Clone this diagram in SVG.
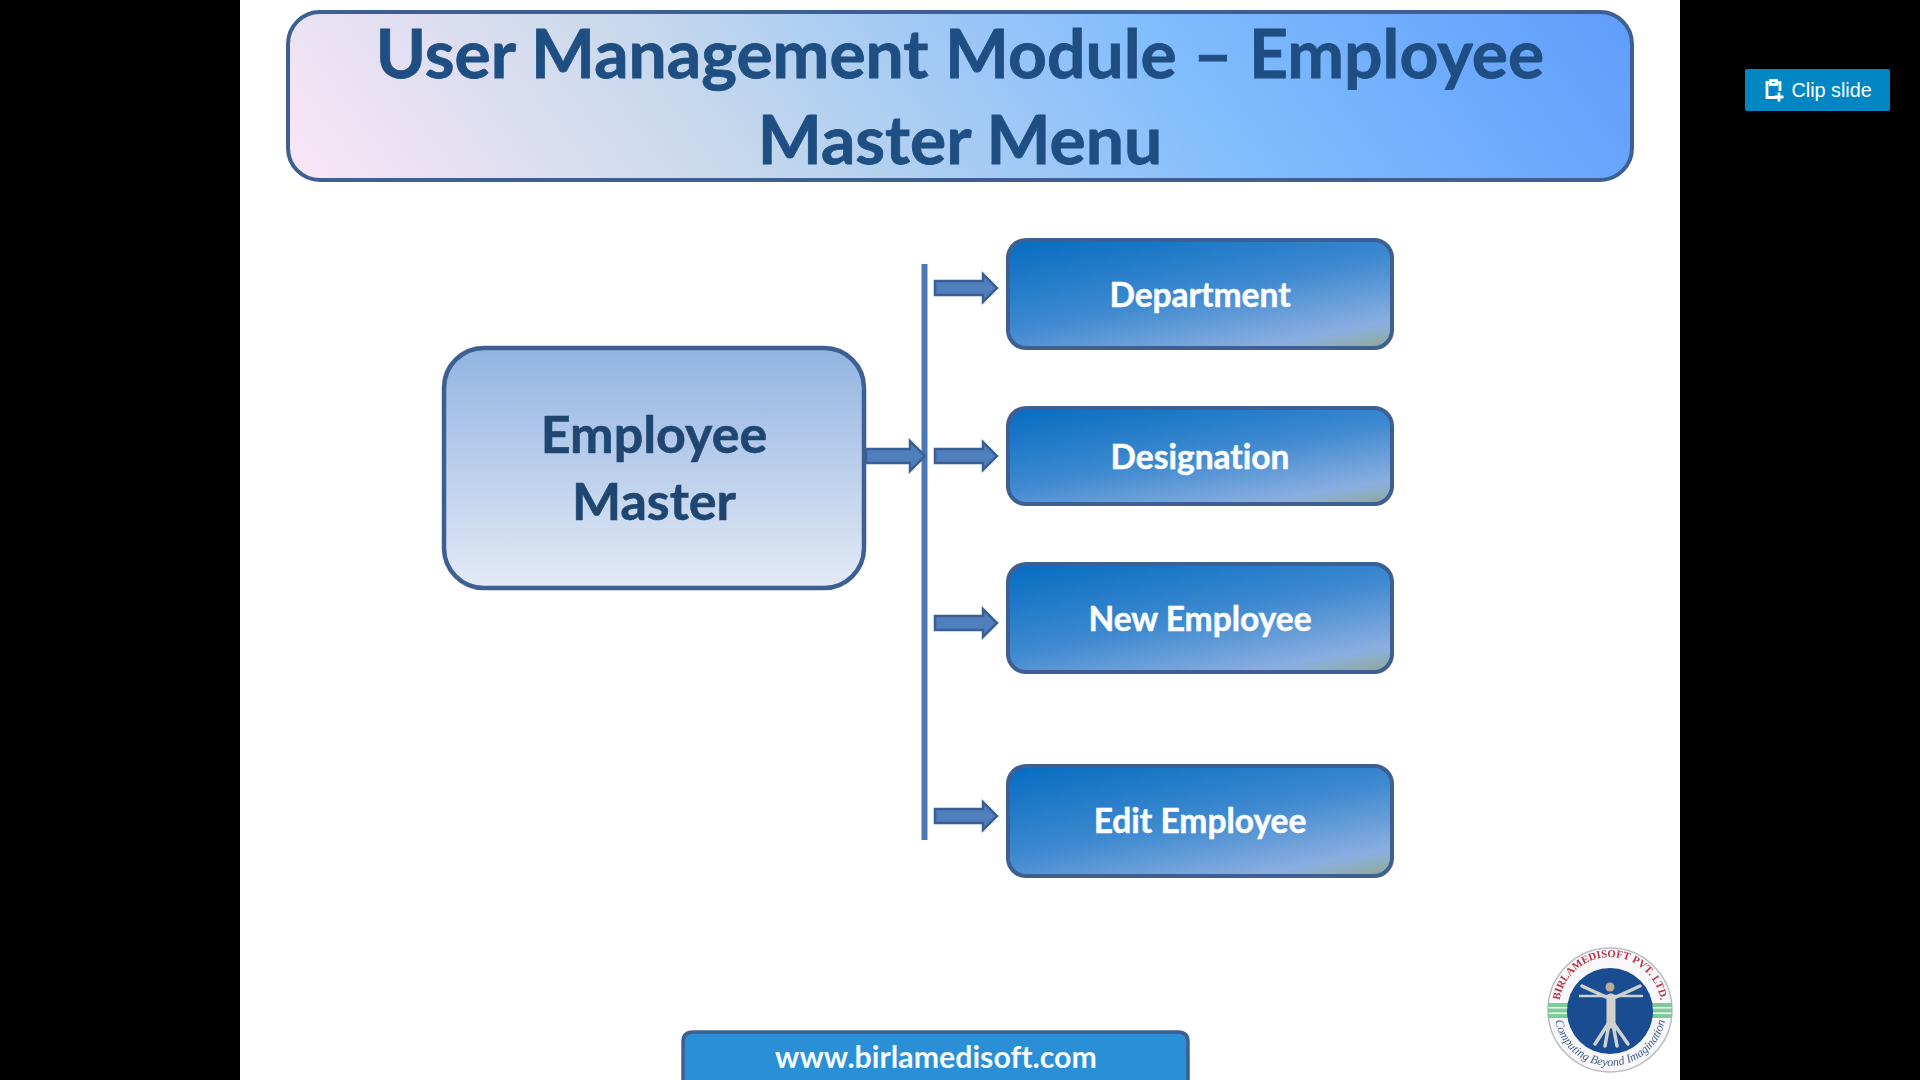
<svg xmlns="http://www.w3.org/2000/svg" xmlns:xlink="http://www.w3.org/1999/xlink" width="1920" height="1080" viewBox="0 0 1920 1080">
<style>
.t{font-family:"Lato","Open Sans","Liberation Sans",sans-serif;font-weight:700;text-anchor:middle;font-variant-ligatures:none}
.box{fill:url(#gBox);stroke:#3d5f92;stroke-width:4}
.lbl{fill:#fbfdff;font-size:33.5px;stroke:#fbfdff;stroke-width:.5}
.arr{fill:#4f7fbd;stroke:#3a5f94;stroke-width:2.500}
</style>
<defs>
<linearGradient id="gTitle" gradientUnits="userSpaceOnUse" x1="288" y1="181" x2="1229" y2="-525">
<stop offset="0" stop-color="#fae6f6"/><stop offset=".32" stop-color="#c6d8ec"/><stop offset=".66" stop-color="#82bdfd"/><stop offset="1" stop-color="#5f9dfc"/>
</linearGradient>
<linearGradient id="gMain" x1="0" y1="0" x2="0" y2="1">
<stop offset="0" stop-color="#93b4e2"/><stop offset="1" stop-color="#e3eaf5"/>
</linearGradient>
<linearGradient id="gBox" x1="0" y1="0" x2=".8" y2="1.14">
<stop offset="0" stop-color="#056cc0"/><stop offset=".5" stop-color="#3f8ad0"/><stop offset=".85" stop-color="#8aaee0"/><stop offset=".89" stop-color="#8dafcf"/><stop offset="1" stop-color="#8fa78e"/>
</linearGradient>
<filter id="soft" x="-5%" y="-5%" width="110%" height="110%"><feGaussianBlur stdDeviation=".7"/></filter>
<path id="arcTop" d="M1559 1008A51 51 0 0 1 1661 1008"/>
<path id="arcBot" d="M1555.300 1022A56 56 0 0 0 1664.700 1022"/>
</defs>
<rect width="1920" height="1080" fill="#000"/>
<rect x="240" width="1440" height="1080" fill="#fff"/>
<g id="title">
<rect x="288" y="12" width="1344" height="168" rx="32" fill="url(#gTitle)" stroke="#3d5f92" stroke-width="4"/>
<text class="t" x="960" y="78" font-size="67.800" fill="#1f4e82" stroke="#1f4e82" stroke-width=".8">User Management Module – Employee</text>
<text class="t" x="960" y="164" font-size="67.800" fill="#1f4e82" stroke="#1f4e82" stroke-width=".8">Master Menu</text>
</g>
<g id="connectors">
<rect x="921.500" y="264" width="6" height="576" fill="#4a78b4"/>
<path class="arr" d="M866 449H910V441L925 456L910 471V463H866Z"/>
<path class="arr" d="M935 281H983V274L997 288L983 302V295H935Z"/>
<path class="arr" d="M935 449H983V442L997 456L983 470V463H935Z"/>
<path class="arr" d="M935 616H983V609L997 623L983 637V630H935Z"/>
<path class="arr" d="M935 809H983V802L997 816L983 830V823H935Z"/>
</g>
<g id="employee-master">
<rect x="444" y="348" width="420" height="240" rx="40" fill="url(#gMain)" stroke="#3d5f92" stroke-width="4.500"/>
<text class="t" x="654" y="453" font-size="52" fill="#1f4671" stroke="#1f4671" stroke-width=".6">Employee</text>
<text class="t" x="654" y="520" font-size="52" fill="#1f4671" stroke="#1f4671" stroke-width=".6">Master</text>
</g>
<g id="department"><rect class="box" x="1008" y="240" width="384" height="108" rx="18"/><text class="t lbl" x="1200" y="307">Department</text></g>
<g id="designation"><rect class="box" x="1008" y="408" width="384" height="96" rx="18"/><text class="t lbl" x="1200" y="469">Designation</text></g>
<g id="new-employee"><rect class="box" x="1008" y="564" width="384" height="108" rx="18"/><text class="t lbl" x="1200" y="631">New Employee</text></g>
<g id="edit-employee"><rect class="box" x="1008" y="766" width="384" height="110" rx="18"/><text class="t lbl" x="1200" y="833">Edit Employee</text></g>
<g id="footer">
<path d="M683 1082V1042Q683 1032 693 1032H1178Q1188 1032 1188 1042V1082Z" fill="#2b8fd6" stroke="#3d5f92" stroke-width="3.500"/>
<text class="t" x="936" y="1067.500" font-size="30.300" fill="#f4fafe">www.birlamedisoft.com</text>
</g>
<g id="logo">
<circle cx="1610" cy="1010" r="62" fill="#f8f8fa" stroke="#b9bcc2" stroke-width="1.500"/>
<g fill="#7ccc98"><rect x="1548" y="1003" width="124" height="4"/><rect x="1548" y="1008.500" width="124" height="4"/><rect x="1548" y="1014" width="124" height="4"/></g>
<circle cx="1610" cy="1011" r="43" fill="#1a4c92"/>
<g filter="url(#soft)">
<text font-family="Liberation Serif,serif" font-size="10.800" font-weight="700" fill="#b5384a"><textPath xlink:href="#arcTop" href="#arcTop" startOffset="50%" text-anchor="middle">BIRLAMEDISOFT PVT. LTD.</textPath></text>
<text font-family="Liberation Serif,serif" font-size="12" font-style="italic" fill="#44608c"><textPath xlink:href="#arcBot" href="#arcBot" startOffset="50%" text-anchor="middle">Computing Beyond Imagination</textPath></text>
<g fill="none" stroke="#cfd2cc" stroke-linecap="round">
<path d="M1582 986L1606 997H1616L1640 986" stroke-width="3.500"/>
<path d="M1580 996H1642" stroke-width="2.500"/>
<path d="M1611 998V1024" stroke-width="9"/>
<path d="M1608 1024L1595 1044M1614 1024L1628 1044M1609 1024L1605 1046M1613 1024L1617 1046" stroke-width="3.500"/>
</g>
<circle cx="1610" cy="987" r="4.500" fill="#b9ae94"/>
</g>
</g>
<g id="clip-slide">
<rect x="1745" y="69" width="145" height="42" rx="2" fill="#0086c3"/>
<path d="M1770 82.500H1767V97.500H1777M1777 82.500H1780V91M1770.500 80.500H1776.500V84.500H1770.500Z" fill="none" stroke="#fff" stroke-width="2.800"/>
<path d="M1779 92.500V101.500M1774.500 97H1783.500" fill="none" stroke="#fff" stroke-width="2.800"/>
<text x="1791.500" y="97" font-family="Liberation Sans,Arial,sans-serif" font-size="19.800" fill="#fff">Clip slide</text>
</g>
</svg>
